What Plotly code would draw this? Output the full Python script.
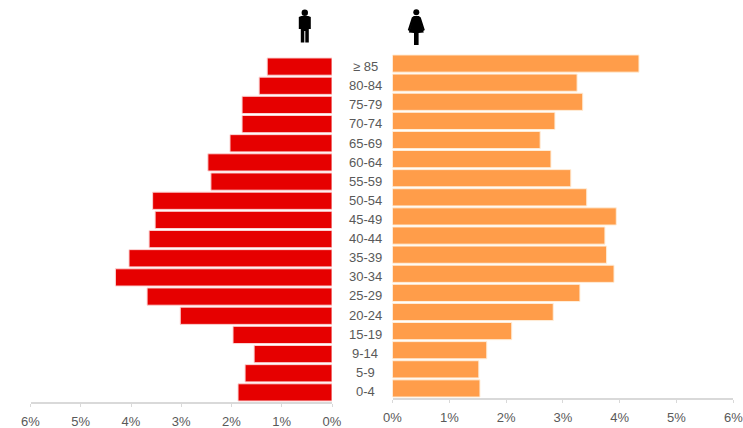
import plotly.graph_objects as go

age_groups = ["0-4", "5-9", "9-14", "15-19", "20-24", "25-29", "30-34", "35-39", "40-44",
              "45-49", "50-54", "55-59", "60-64", "65-69", "70-74", "75-79", "80-84", "≥ 85"]
men = [1.87, 1.73, 1.55, 1.97, 3.02, 3.68, 4.31, 4.04, 3.64,
       3.52, 3.57, 2.41, 2.47, 2.03, 1.79, 1.79, 1.45, 1.29]
women = [1.54, 1.52, 1.66, 2.10, 2.83, 3.30, 3.90, 3.77, 3.74,
         3.94, 3.42, 3.14, 2.79, 2.60, 2.86, 3.35, 3.25, 4.34]
pct_ticks = [0, 1, 2, 3, 4, 5, 6]

W, H = 743, 428
GREY = "#595959"

# Pictogram outlines as (offset from centre, page y) in pixels
MAN_OUTLINE = [(-3.5, 16), (3.5, 16), (6, 17), (6, 29), (4, 29), (4, 42.5), (0.5, 42.5), (0.5, 31),
               (-0.5, 31), (-0.5, 42.5), (-4, 42.5), (-4, 29), (-6, 29), (-6, 17)]
WOMAN_OUTLINE = [(-2.5, 16), (2.5, 16), (4.5, 17.5), (8.5, 30), (7, 31), (4.5, 24), (7.5, 32.5),
                 (2.3, 33), (2.3, 45), (-2.3, 45), (-2.3, 33), (-7.5, 32.5), (-4.5, 24),
                 (-7, 31), (-8.5, 30), (-4.5, 17.5)]


def px(x):
    return x / W


def py(y):
    return 1 - y / H


def outline_path(cx, points):
    return "M" + " L".join(f"{px(cx + dx):.5f},{py(y):.5f}" for dx, y in points) + " Z"


def pictogram(cx, head_y, head_r, points):
    """Body and head shapes of one figure, in page coordinates."""
    return [
        dict(type="path", xref="paper", yref="paper", path=outline_path(cx, points),
             fillcolor="black", line=dict(width=0)),
        dict(type="circle", xref="paper", yref="paper",
             x0=px(cx - head_r), x1=px(cx + head_r), y0=py(head_y + head_r), y1=py(head_y - head_r),
             fillcolor="black", line=dict(width=0)),
    ]


fig = go.Figure()

fig.add_trace(go.Bar(y=age_groups, x=men, orientation="h", xaxis="x", yaxis="y",
                     marker=dict(color="#e60000", line=dict(color="#fbd5d5", width=1)),
                     width=0.9, showlegend=False))
fig.add_trace(go.Bar(y=age_groups, x=women, orientation="h", xaxis="x2", yaxis="y2",
                     marker=dict(color="#ff9d4a", line=dict(color="#ffeeda", width=1)),
                     width=0.9, showlegend=False))

axis_style = dict(tickmode="array", tickvals=pct_ticks,
                  ticktext=[f"{t}%" for t in pct_ticks], ticks="outside", ticklen=3,
                  tickcolor="#d9d9d9", showline=True, linecolor="#d9d9d9", linewidth=1.5,
                  showgrid=False, zeroline=False, ticklabeloverflow="allow",
                  tickfont=dict(family="Liberation Sans", size=13, color=GREY))

category_axis = dict(categoryorder="array", categoryarray=age_groups, range=[-0.5, 17.5],
                     showticklabels=False, showline=False, showgrid=False,
                     zeroline=False, ticks="")

annotations = [dict(x=px(365), y=g, xref="paper", yref="y2", text=g, showarrow=False,
                    font=dict(family="Liberation Sans", size=13, color=GREY), xanchor="center",
                    yshift=-3)
               for g in age_groups]

fig.update_layout(
    width=W, height=H, margin=dict(l=0, r=0, t=0, b=0, autoexpand=False),
    paper_bgcolor="white", plot_bgcolor="white", bargap=0.1,
    xaxis=dict(domain=[px(30.5), px(332)], anchor="y", range=[6, 0], ticklabelstandoff=4, **axis_style),
    xaxis2=dict(domain=[px(392.5), px(733.3)], anchor="y2", range=[0, 6], ticklabelstandoff=4, **axis_style),
    yaxis=dict(domain=[py(402), py(57)], anchor="x", **category_axis),
    yaxis2=dict(domain=[py(398), py(54)], anchor="x2", **category_axis),
    shapes=pictogram(304.8, 12.7, 3.2, MAN_OUTLINE) + pictogram(416.3, 12.3, 3.0, WOMAN_OUTLINE),
    annotations=annotations,
)

fig.write_html("out.html")
